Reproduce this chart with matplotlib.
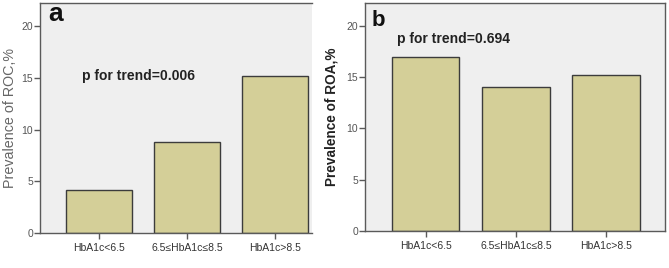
import matplotlib
matplotlib.use("Agg")
import matplotlib.pyplot as plt

plt.rcParams['font.family'] = ['Liberation Sans', 'DejaVu Sans']

categories = ["HbA1c<6.5", "6.5\u2264HbA1c\u22648.5", "HbA1c>8.5"]
roc_values = [4.15, 8.8, 15.2]
roa_values = [17.0, 14.0, 15.2]
yticks = [0, 5, 10, 15, 20]
p_roc = "p for trend=0.006"
p_roa = "p for trend=0.694"

bar_color = '#D4CF98'
bg = '#EFEFEF'
edge = '#3c3c3c'
spine_c = '#5a5a5a'

W, H = 669, 268
fig = plt.figure(figsize=(W / 100, H / 100), dpi=100)

def frac(l, r, top, bot):
    return [l / W, 1 - bot / H, (r - l) / W, (bot - top) / H]

ax1 = fig.add_axes(frac(40, 312, 3.3, 233))
ax2 = fig.add_axes(frac(365, 665, 3.3, 231))

x = list(range(len(categories)))

for ax, vals, width in ((ax1, roc_values, 0.76), (ax2, roa_values, 0.75)):
    ax.set_facecolor(bg)
    ax.bar(x, vals, width=width, color=bar_color, edgecolor=edge, linewidth=1.0, zorder=2)
    ax.set_ylim(0, 22.2)
    ax.set_yticks(yticks)
    ax.set_xticks(x)
    ax.set_xticklabels(categories, fontsize=7.5, color='#333333')
    ax.tick_params(axis='y', length=4, width=1, color=spine_c, labelsize=7.5, labelcolor='#555555', pad=1)
    ax.tick_params(axis='x', length=4, width=1, color=spine_c, pad=3)
    for s in ax.spines.values():
        s.set_color(spine_c)
        s.set_linewidth(1.0)

ax1.set_xlim(-0.67, 2.42)
ax1.spines['right'].set_visible(False)
ax2.set_xlim(-0.67, 2.65)

ax1.set_ylabel("Prevalence of ROC,%", fontsize=10.3, color='#666666', labelpad=3)
ax2.set_ylabel("Prevalence of ROA,%", fontsize=9.8, color='#222222', fontweight='bold', labelpad=6)

ax1.text(-0.19, 15.2, p_roc, fontsize=10, fontweight='bold', color='#222222', ha='left', va='center')
ax2.text(-0.32, 18.7, p_roa, fontsize=10, fontweight='bold', color='#222222', ha='left', va='center')

ax1.text(0.03, 0.921, "a", transform=ax1.transAxes, fontsize=19, fontweight='bold', color='#111111', ha='left', va='baseline')
ax2.text(0.023, 0.90, "b", transform=ax2.transAxes, fontsize=16, fontweight='bold', color='#111111', ha='left', va='baseline')

fig.savefig("out.png", dpi=100, facecolor='white')
